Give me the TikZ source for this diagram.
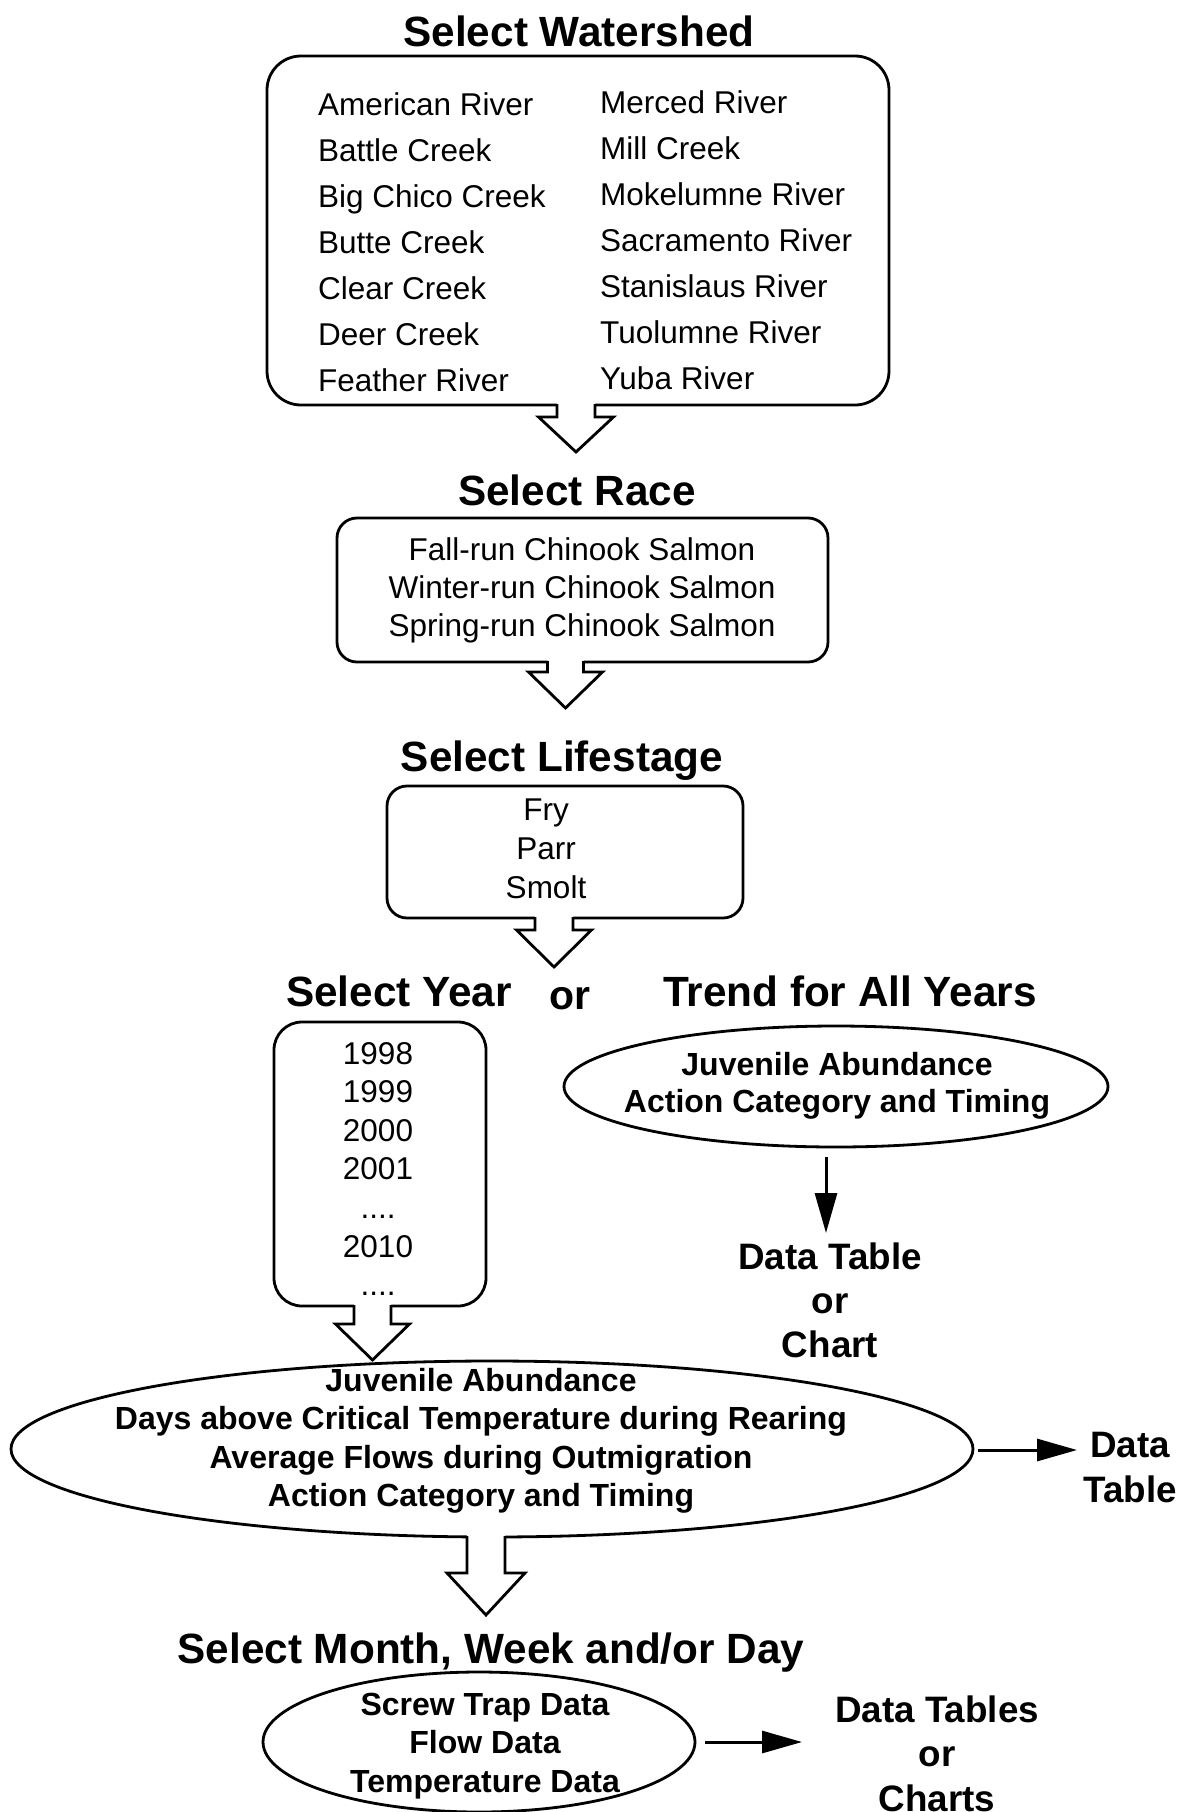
\documentclass[tikz,border=0pt]{standalone}
\usepackage{fontspec}
\setmainfont{Liberation Sans}
\usetikzlibrary{shapes.geometric,calc,arrows.meta}

% Hollow block arrow hanging below a box edge.
% #1 top-centre point on the edge, #2 half shaft width, #3 shaft length,
% #4 half head width, #5 head length
\newcommand{\hollowarrow}[5]{%
  \fill[white] ($(#1)+(-#2,-2)$) -- ($(#1)+(-#2,#3)$) -- ($(#1)+(-#4,#3)$)
    -- ($(#1)+(0,{#3+#5})$) -- ($(#1)+(#4,#3)$) -- ($(#1)+(#2,#3)$)
    -- ($(#1)+(#2,-2)$) -- cycle;
  \draw[edge, line join=miter] ($(#1)+(-#2,-1)$) -- ($(#1)+(-#2,#3)$) -- ($(#1)+(-#4,#3)$)
    -- ($(#1)+(0,{#3+#5})$) -- ($(#1)+(#4,#3)$) -- ($(#1)+(#2,#3)$)
    -- ($(#1)+(#2,-1)$);
}

\begin{document}
\begin{tikzpicture}[x=1pt,y=-1pt,
  edge/.style={line width=2.8pt},
  panel/.style={draw, edge, rectangle, inner sep=0pt, outer sep=0pt},
  oval/.style={draw, edge, ellipse, inner sep=0pt, outer sep=0pt},
  heading/.style={font=\fontsize{42.3}{50}\selectfont\bfseries, anchor=base, inner sep=0pt},
  listtext/.style={font=\fontsize{31.5}{#1}\selectfont, anchor=base, inner sep=0pt, align=center},
  boldtext/.style={font=\fontsize{32}{#1}\selectfont\bfseries, anchor=base, inner sep=0pt, align=center},
  resulttext/.style={font=\fontsize{36.8}{#1}\selectfont\bfseries, anchor=base, inner sep=0pt, align=center},
  tipline/.style={line width=3pt, -{Triangle[length=40pt,width=22pt]}}
]
\useasboundingbox (0,0) rectangle (1186,1812);
\fill[white] (0,0) rectangle (1186,1812);

% ---- boxes and ovals
\node[panel, rounded corners=34pt, minimum width=622pt, minimum height=349pt] (ws) at (578,230.5) {};
\node[panel, rounded corners=20pt, minimum width=491pt, minimum height=144pt] (race) at (582.5,590) {};
\node[panel, rounded corners=20pt, minimum width=356pt, minimum height=132pt] (life) at (565,852) {};
\node[panel, rounded corners=28pt, minimum width=212pt, minimum height=284pt] (year) at (380,1164) {};
\node[oval, minimum width=544pt, minimum height=121pt] (trend) at (836,1086.5) {};
\node[oval, minimum width=962pt, minimum height=176pt] (big) at (492,1449) {};
\node[oval, minimum width=432pt, minimum height=140pt] (small) at (479,1742) {};

% ---- hollow arrows between the steps
\coordinate (a1) at ($(ws.south)+(-2,0)$);
\coordinate (a2) at ($(race.south)+(-17,0)$);
\coordinate (a3) at ($(life.south)+(-11,0)$);
\coordinate (a4) at ($(year.south)+(-7.5,0)$);
\coordinate (a5) at ($(big.south)+(-6,0)$);
\hollowarrow{a1}{19}{12}{37.5}{35}
\hollowarrow{a2}{18}{10}{37}{36}
\hollowarrow{a3}{19}{12}{37.5}{37}
\hollowarrow{a4}{18.5}{18}{37}{36}
\hollowarrow{a5}{19}{36}{39}{42}

% ---- headings
\node[heading] (hws) at (579,46) {Select Watershed};
\node[heading] (hrace) at (577,505) {Select Race};
\node[heading] (hlife) at (562,771) {Select Lifestage};
\node[heading] (hyear) at (399,1006) {Select Year};
\node[font=\fontsize{41}{48}\selectfont\bfseries, anchor=base, inner sep=0pt] (hor) at (570,1009) {or};
\node[heading] (htrend) at (850,1006) {Trend for All Years};
\node[heading] (hmonth) at (491,1663) {Select Month, Week and/or Day};

% ---- watershed lists (anchored on the baseline of the last line)
\node[listtext=46.1, align=left, anchor=base west] (wsl) at (318,391.6)
  {American River\\Battle Creek\\Big Chico Creek\\Butte Creek\\Clear Creek\\Deer Creek\\Feather River};
\node[listtext=46.1, align=left, anchor=base west] (wsr) at (600,389.6)
  {Merced River\\Mill Creek\\Mokelumne River\\Sacramento River\\Stanislaus River\\Tuolumne River\\Yuba River};

% ---- race, lifestage, years
\node[listtext=38] (racet) at (582,636)
  {Fall-run Chinook Salmon\\Winter-run Chinook Salmon\\Spring-run Chinook Salmon};
\node[listtext=39] (lifet) at (546,898) {Fry\\Parr\\Smolt};
\node[listtext=38.6] (yeart) at (378,1295.6) {1998\\1999\\2000\\2001\\....\\2010\\....};

% ---- trend branch
\node[boldtext=37.5] (trendt) at (837,1112.5) {Juvenile Abundance\\Action Category and Timing};
\node[resulttext=44] (dtc) at (830,1357) {Data Table\\or\\Chart};
\draw[tipline] ($(trend.south)+(-10,10)$) -- ($(trend.south)+(-10,86)$);

% ---- single-year results
\node[boldtext=38.6] (bigt) at (481,1506.8)
  {Juvenile Abundance\\Days above Critical Temperature during Rearing\\Average Flows during Outmigration\\Action Category and Timing};
\node[resulttext=45] (dtr) at (1130,1502) {Data\\Table};
\draw[tipline] ($(big.east)+(5,1)$) -- ($(big.east)+(104,1)$);

% ---- daily results
\node[boldtext=38.5] (smallt) at (485,1792) {Screw Trap Data\\Flow Data\\Temperature Data};
\node[resulttext=44.5] (dts) at (937,1811) {Data Tables\\or\\Charts};
\draw[tipline] ($(small.east)+(10,0)$) -- ($(small.east)+(107,0)$);
\end{tikzpicture}
\end{document}
